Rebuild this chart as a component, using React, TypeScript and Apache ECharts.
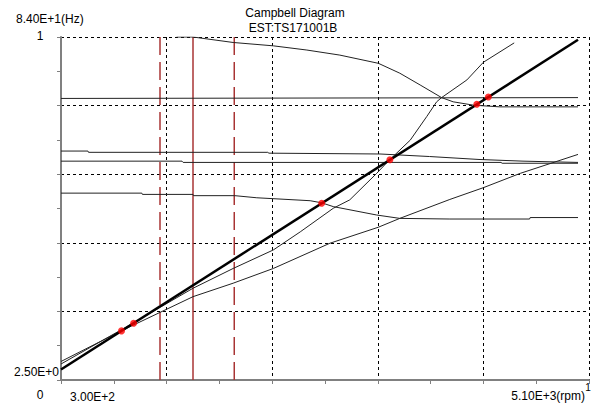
import React, { useEffect, useRef } from "react";
import * as echarts from "echarts";

// Axis ranges (rpm, Hz)
const X_MIN = 300;
const X_MAX = 5100;
const X_STEP = 960;
const Y_MIN = 2.5;
const Y_MAX = 84;
const Y_STEP = 16.3;

// Tick / corner labels
const titleText = "Campbell Diagram";
const subtitleText = "EST:TS171001B";
const yUnitLabel = "8.40E+1(Hz)";
const yTopLabel = "1";
const yBottomLabel = "2.50E+0";
const originLabel = "0";
const xStartLabel = "3.00E+2";
const xEndLabel = "5.10E+3(rpm)";
const xEndSuffix = "1";

// 1x excitation line (Hz = rpm / 60)
const excitation1x: number[][] = [[300, 5], [5000, 83.33]];

// Natural-frequency curves [rpm, Hz]
const modeFlat: number[][] = [[300, 69.4], [5000, 69.6]];
const modeTop: number[][] = [
  [1350, 84], [1500, 84], [1865, 82.7], [2230, 81.9], [2535, 80.9], [2835, 79.7],
  [3185, 77.75], [3380, 75.4], [3565, 72.6], [3760, 69.6], [3865, 68.6],
  [4050, 67.8], [4290, 67.4], [5000, 67.4],
];
const modeForward: number[][] = [
  [300, 6.3], [960, 16.1], [1500, 24.3], [1865, 29.0], [2230, 33.4], [2475, 37.7],
  [2775, 43.3], [2925, 45.3], [3170, 51.6], [3275, 54.5], [3475, 59.5], [3625, 65.1],
  [3715, 68.6], [3760, 69.6], [3990, 73.8], [4140, 78.0], [4420, 82.6],
];
const modeRising: number[][] = [
  [300, 6.9], [850, 14.2], [1500, 22.3], [1865, 25.5], [2230, 29.0], [2745, 35.0],
  [3185, 38.8], [3380, 40.9], [3835, 45.4], [4140, 48.2], [4475, 51.6], [5000, 56.1],
];
const modeA: number[][] = [
  [300, 56.9], [545, 56.9], [550, 56.6], [2180, 56.6], [2190, 56.4], [3200, 56.2],
  [3650, 55.6], [4100, 54.9], [4500, 54.5], [5000, 54.2],
];
const modeB: number[][] = [
  [300, 54.5], [1400, 54.5], [1410, 54.2], [4300, 54.2], [4310, 54.0], [5000, 54.0],
];
const modeC: number[][] = [
  [300, 46.9], [1035, 46.9], [1040, 46.6], [1500, 46.6], [1505, 46.3], [1880, 46.3],
  [2080, 45.8], [2565, 45.1], [2670, 44.6], [2775, 43.7], [3170, 41.7], [3380, 40.9],
  [3835, 40.75], [4560, 40.75], [4565, 41.1], [5000, 41.1],
];

// Critical speed points on the 1x line
const criticalPoints: number[][] = [
  [850, 14.17], [960, 16.0], [2670, 44.5], [3290, 54.83], [4080, 68.0], [4185, 69.75],
];

// Operating speed and its range
const operatingSpeeds = [1200, 1500, 1875];
const operatingDashed = [true, false, true];

const FONT = '12px "Liberation Sans", Arial, sans-serif';

export default function App() {
  const ref = useRef<HTMLDivElement>(null);

  useEffect(() => {
    const chart = echarts.init(ref.current!, null, { renderer: "svg" });

    const thin = (data: number[][]) => ({
      type: "line",
      data,
      symbol: "none",
      silent: true,
      lineStyle: { color: "#222", width: 1 },
      z: 3,
    });

    const verticals = operatingSpeeds.map((s, i) => ({
      type: "line",
      data: [[s, Y_MIN], [s, Y_MAX]],
      symbol: "none",
      silent: true,
      lineStyle: {
        color: "#a83434",
        width: 1.5,
        type: operatingDashed[i] ? [18, 7] : "solid",
      },
      z: 2,
    }));

    const axisCommon = {
      type: "value",
      axisLabel: { show: false },
      axisLine: { show: true, lineStyle: { color: "#808080", width: 2 } },
      axisTick: { show: true, inside: false, length: 4, lineStyle: { color: "#808080", width: 1 } },
      minorTick: { show: true, splitNumber: 2, length: 4, lineStyle: { color: "#808080", width: 1 } },
      splitLine: {
        show: true,
        showMinLine: false,
        lineStyle: { color: "#000", width: 1, type: [3, 3] },
      },
    };

    const text = (t: string, x: number, y: number, align: string, size = 12) => ({
      type: "text",
      x,
      y,
      silent: true,
      style: {
        text: t,
        fill: "#000",
        font: `${size}px "Liberation Sans", Arial, sans-serif`,
        textAlign: align,
        textVerticalAlign: "middle",
        verticalAlign: "middle",
      },
    });

    chart.setOption({
      animation: false,
      backgroundColor: "#fff",
      grid: { left: 61, right: 11, top: 37, bottom: 26, containLabel: false },
      xAxis: { ...axisCommon, min: X_MIN, max: X_MAX, interval: X_STEP },
      yAxis: { ...axisCommon, min: Y_MIN, max: Y_MAX, interval: Y_STEP },
      graphic: [
        text(titleText, 295, 13, "center"),
        text(subtitleText, 293, 28, "center"),
        text(yUnitLabel, 16, 19, "left"),
        text(yTopLabel, 40, 36, "center"),
        text(yBottomLabel, 59, 372, "right"),
        text(originLabel, 40, 395, "center"),
        text(xStartLabel, 70, 397, "left"),
        text(xEndLabel, 585, 396, "right"),
        text(xEndSuffix, 588, 387, "center", 10),
      ],
      series: [
        ...verticals,
        thin(modeFlat),
        thin(modeTop),
        thin(modeForward),
        thin(modeRising),
        thin(modeA),
        thin(modeB),
        thin(modeC),
        {
          type: "line",
          data: excitation1x,
          symbol: "none",
          silent: true,
          lineStyle: { color: "#000", width: 2.5 },
          z: 4,
        },
        {
          type: "scatter",
          data: criticalPoints,
          symbol: "circle",
          symbolSize: 7,
          silent: true,
          itemStyle: { color: "#ff0000" },
          z: 5,
        },
      ],
    });

    return () => chart.dispose();
  }, []);

  return (
    <div
      ref={ref}
      style={{ position: "fixed", left: 0, top: 0, width: 600, height: 406, background: "#fff" }}
    />
  );
}
